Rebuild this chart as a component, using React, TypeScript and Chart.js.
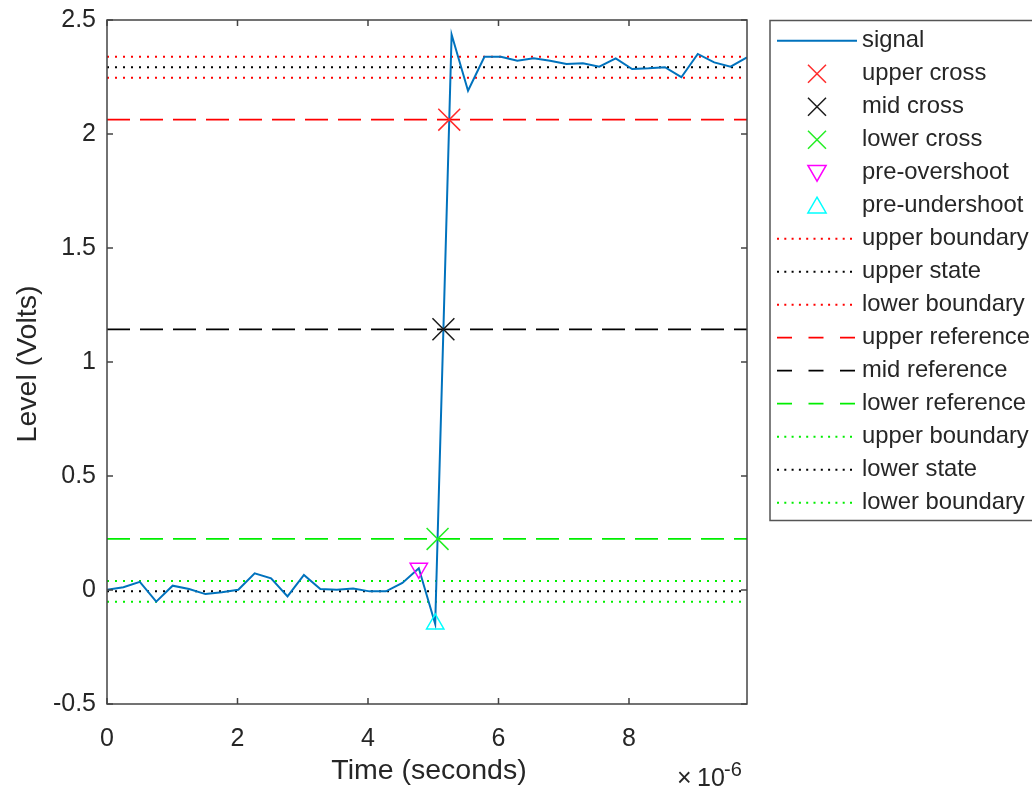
import React, { useEffect, useRef } from "react";
import { Chart, registerables } from "chart.js";

Chart.register(...registerables);

const FONT = '"Liberation Sans", Arial, Helvetica, sans-serif';
const TEXT = "#262626";

// sample times (x 1e-6 s)
const timeUs = [
  0.0, 0.2515, 0.503, 0.7545, 1.006, 1.2575, 1.509, 1.7605, 2.012, 2.2635,
  2.515, 2.7665, 3.018, 3.2695, 3.521, 3.7725, 4.024, 4.2755, 4.527, 4.7785,
  5.03, 5.2815, 5.533, 5.7845, 6.036, 6.2875, 6.539, 6.7905, 7.042, 7.2935,
  7.545, 7.7965, 8.048, 8.2995, 8.551, 8.8025, 9.054, 9.3055, 9.557, 9.8085,
];

// signal level (Volts)
const signalV = [
  0.001, 0.012, 0.036, -0.051, 0.019, 0.004, -0.018, -0.01, 0.001, 0.073,
  0.051, -0.028, 0.066, 0.004, 0.001, 0.007, -0.006, -0.006, 0.031, 0.095,
  -0.149, 2.436, 2.19, 2.339, 2.339, 2.321, 2.332, 2.321, 2.307, 2.31,
  2.295, 2.332, 2.285, 2.288, 2.293, 2.249, 2.351, 2.314, 2.295, 2.336,
];

const xTicks = [0, 2, 4, 6, 8];
const xTickLabels = ["0", "2", "4", "6", "8"];
const yTicks = [-0.5, 0, 0.5, 1, 1.5, 2, 2.5];
const yTickLabels = ["-0.5", "0", "0.5", "1", "1.5", "2", "2.5"];
const yMin = -0.5;
const yMax = 2.5;

const crossLabels = ["upper cross", "mid cross", "lower cross"];
const crossTimes = [5.2452, 5.1558, 5.0663];
const crossLevels = [2.063, 1.1435, 0.224];
const crossColors = ["#ff2a2a", "#1a1a1a", "#22ee22"];

const preOvershootT = [4.7785];
const preOvershootV = [0.095];
const preUndershootT = [5.03];
const preUndershootV = [-0.149];

const levelLabels = [
  "upper boundary", "upper state", "lower boundary",
  "upper reference", "mid reference", "lower reference",
  "upper boundary", "lower state", "lower boundary",
];
const levelValues = [2.339, 2.293, 2.247, 2.063, 1.1435, 0.224, 0.04, -0.006, -0.052];
const levelColors = [
  "#ff0000", "#000000", "#ff0000",
  "#ff0000", "#000000", "#00ee00",
  "#00ee00", "#000000", "#00ee00",
];
const levelStyles = [
  "dotted", "dotted", "dotted",
  "dashed", "dashed", "dashed",
  "dotted", "dotted", "dotted",
];

const xAxisTitle = "Time (seconds)";
const yAxisTitle = "Level (Volts)";

const LEG = {
  left: 770,
  top: 20.5,
  bottom: 520.5,
  right: 1045,
  firstRow: 40.7,
  rowStep: 33,
  sx0: 777,
  sx1: 857,
  mx: 817,
  tx: 862,
};

const decorPlugin = {
  id: "matlabDecor",
  afterDatasetsDraw(chart: any) {
    const { ctx, chartArea } = chart;
    const { left, right, top, bottom } = chartArea;
    const xs = chart.scales.x;
    const ys = chart.scales.y;
    ctx.save();
    ctx.strokeStyle = "#444444";
    ctx.lineWidth = 1.5;
    ctx.setLineDash([]);
    ctx.strokeRect(left, top, right - left, bottom - top);
    const tl = 6;
    ctx.beginPath();
    xTicks.forEach((v) => {
      const px = xs.getPixelForValue(v);
      ctx.moveTo(px, bottom);
      ctx.lineTo(px, bottom - tl);
      ctx.moveTo(px, top);
      ctx.lineTo(px, top + tl);
    });
    yTicks.forEach((v) => {
      const py = ys.getPixelForValue(v);
      ctx.moveTo(left, py);
      ctx.lineTo(left + tl, py);
      ctx.moveTo(right, py);
      ctx.lineTo(right - tl, py);
    });
    ctx.stroke();
    ctx.restore();
  },
  afterDraw(chart: any) {
    const { ctx, chartArea } = chart;
    const { left, right, top, bottom } = chartArea;
    ctx.save();
    // axis titles
    ctx.fillStyle = TEXT;
    ctx.font = `28.5px ${FONT}`;
    ctx.textAlign = "center";
    ctx.textBaseline = "alphabetic";
    ctx.fillText(xAxisTitle, (left + right) / 2 + 2, 779);
    ctx.save();
    ctx.translate(36, (top + bottom) / 2 + 2);
    ctx.rotate(-Math.PI / 2);
    ctx.fillText(yAxisTitle, 0, 0);
    ctx.restore();
    // exponent
    ctx.textAlign = "left";
    ctx.font = `25px ${FONT}`;
    ctx.fillText("\u00d7", 677, 786);
    ctx.fillText("10", 697, 786);
    ctx.font = `20px ${FONT}`;
    ctx.fillText("-6", 724, 776);

    // legend
    ctx.fillStyle = "#ffffff";
    ctx.fillRect(LEG.left, LEG.top, LEG.right - LEG.left, LEG.bottom - LEG.top);
    ctx.strokeStyle = "#555555";
    ctx.lineWidth = 1.5;
    ctx.setLineDash([]);
    ctx.strokeRect(LEG.left, LEG.top, LEG.right - LEG.left, LEG.bottom - LEG.top);

    chart.data.datasets.forEach((ds: any, k: number) => {
      const y = LEG.firstRow + k * LEG.rowStep;
      ctx.save();
      if (ds.showLine) {
        ctx.strokeStyle = ds.borderColor;
        ctx.lineWidth = ds.borderWidth;
        ctx.setLineDash(ds.legendDash || []);
        ctx.beginPath();
        ctx.moveTo(LEG.sx0, y);
        ctx.lineTo(LEG.sx1, y);
        ctx.stroke();
      } else {
        ctx.strokeStyle = ds.pointBorderColor;
        ctx.lineWidth = 1.5;
        ctx.setLineDash([]);
        ctx.beginPath();
        if (ds.pointStyle === "crossRot") {
          const h = 9;
          ctx.moveTo(LEG.mx - h, y - h);
          ctx.lineTo(LEG.mx + h, y + h);
          ctx.moveTo(LEG.mx - h, y + h);
          ctx.lineTo(LEG.mx + h, y - h);
        } else {
          const r = 10.5;
          const rot = ((ds.rotation || 0) * Math.PI) / 180;
          for (let j = 0; j < 3; j++) {
            const a = rot + (j * 2 * Math.PI) / 3;
            const px = LEG.mx + Math.sin(a) * r;
            const py = y - Math.cos(a) * r + (ds.rotation ? -2 : 2);
            if (j === 0) ctx.moveTo(px, py);
            else ctx.lineTo(px, py);
          }
          ctx.closePath();
        }
        ctx.stroke();
      }
      ctx.fillStyle = TEXT;
      ctx.font = `23.8px ${FONT}`;
      ctx.textAlign = "left";
      ctx.textBaseline = "middle";
      ctx.fillText(ds.label, LEG.tx, y);
      ctx.restore();
    });
    ctx.restore();
  },
};

export default function App() {
  const canvasRef = useRef<HTMLCanvasElement | null>(null);

  useEffect(() => {
    const canvas = canvasRef.current;
    if (!canvas) return;
    const tMin = timeUs[0];
    const tMax = timeUs[timeUs.length - 1];

    const datasets: any[] = [];
    datasets.push({
      label: "signal",
      data: timeUs.map((t, i) => ({ x: t, y: signalV[i] })),
      showLine: true,
      borderColor: "#0072bd",
      borderWidth: 2,
      pointRadius: 0,
      tension: 0,
      order: 1,
      legendDash: [],
    });
    crossLabels.forEach((lab, i) => {
      datasets.push({
        label: lab,
        data: [{ x: crossTimes[i], y: crossLevels[i] }],
        showLine: false,
        pointStyle: "crossRot",
        pointRadius: 15.5,
        pointBorderWidth: 1.5,
        pointBorderColor: crossColors[i],
        pointBackgroundColor: "rgba(0,0,0,0)",
        borderColor: crossColors[i],
        order: 0,
      });
    });
    datasets.push({
      label: "pre-overshoot",
      data: preOvershootT.map((t, i) => ({ x: t, y: preOvershootV[i] })),
      showLine: false,
      pointStyle: "triangle",
      rotation: 180,
      pointRadius: 10,
      pointBorderWidth: 1.5,
      pointBorderColor: "#ff00ff",
      pointBackgroundColor: "rgba(0,0,0,0)",
      borderColor: "#ff00ff",
      order: 0,
    });
    datasets.push({
      label: "pre-undershoot",
      data: preUndershootT.map((t, i) => ({ x: t, y: preUndershootV[i] })),
      showLine: false,
      pointStyle: "triangle",
      rotation: 0,
      pointRadius: 10,
      pointBorderWidth: 1.5,
      pointBorderColor: "#00ffff",
      pointBackgroundColor: "rgba(0,0,0,0)",
      borderColor: "#00ffff",
      order: 0,
    });
    levelLabels.forEach((lab, i) => {
      const dotted = levelStyles[i] === "dotted";
      datasets.push({
        label: lab,
        data: [
          { x: tMin, y: levelValues[i] },
          { x: tMax, y: levelValues[i] },
        ],
        showLine: true,
        borderColor: levelColors[i],
        borderWidth: dotted ? 2 : 1.8,
        borderDash: dotted ? [2, 6] : [23, 10],
        legendDash: dotted ? [2, 5.3] : [15, 16.5],
        pointRadius: 0,
        order: 2,
      });
    });

    const chart = new Chart(canvas, {
      type: "scatter",
      data: { datasets },
      options: {
        animation: false,
        responsive: false,
        devicePixelRatio: 1,
        layout: { padding: { top: 20, right: 285, left: 0, bottom: 0 } },
        plugins: {
          legend: { display: false },
          tooltip: { enabled: false },
          title: { display: false },
        },
        scales: {
          x: {
            type: "linear",
            min: tMin,
            max: tMax,
            afterBuildTicks: (s: any) => {
              s.ticks = xTicks.map((v) => ({ value: v }));
            },
            afterFit: (s: any) => {
              s.height = 86;
              s.paddingLeft = 0;
              s.paddingRight = 0;
            },
            grid: { display: false, drawTicks: false },
            border: { display: false },
            ticks: {
              autoSkip: false,
              maxRotation: 0,
              padding: 20,
              color: TEXT,
              font: { family: FONT, size: 25 },
              callback: (_v: any, i: number) => xTickLabels[i],
            },
          },
          y: {
            type: "linear",
            min: yMin,
            max: yMax,
            afterBuildTicks: (s: any) => {
              s.ticks = yTicks.map((v) => ({ value: v }));
            },
            afterFit: (s: any) => {
              s.width = 107;
              s.paddingTop = 0;
              s.paddingBottom = 0;
            },
            grid: { display: false, drawTicks: false },
            border: { display: false },
            ticks: {
              autoSkip: false,
              padding: 11,
              color: TEXT,
              font: { family: FONT, size: 25 },
              callback: (_v: any, i: number) => yTickLabels[i],
            },
          },
        },
      },
      plugins: [decorPlugin],
    } as any);

    return () => chart.destroy();
  }, []);

  return (
    <div
      style={{
        position: "fixed",
        left: 0,
        top: 0,
        width: 1032,
        height: 790,
        background: "#ffffff",
        overflow: "hidden",
      }}
    >
      <canvas ref={canvasRef} width={1032} height={790} style={{ display: "block" }} />
    </div>
  );
}
